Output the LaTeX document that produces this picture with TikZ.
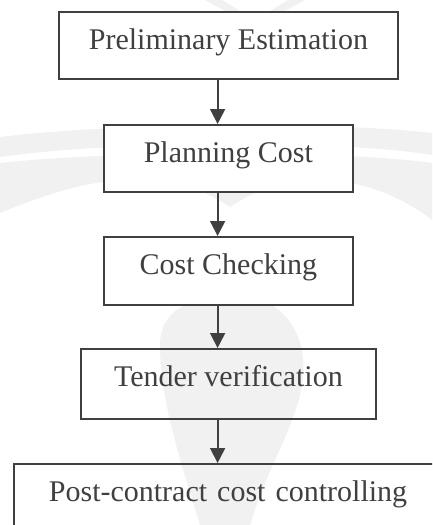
\documentclass[tikz,border=0pt]{standalone}
\usepackage{fontspec}
\setmainfont{Liberation Serif}
\usetikzlibrary{arrows.meta}
\definecolor{ink}{HTML}{404040}
\definecolor{wm}{HTML}{F1F1F1}

\begin{document}
\begin{tikzpicture}[x=1pt,y=-1pt,
  stage/.style={draw=ink, line width=1.8pt, text=ink, inner sep=0pt,
    text height=38pt, text depth=29pt, anchor=north west,
    font=\fontsize{30}{36}\selectfont},
  opaque/.style={fill=white},
  flow/.style={draw=ink, line width=1.8pt, -{Triangle[width=15pt,length=15pt]}}]
\useasboundingbox (0,0) rectangle (432,525);
\begin{scope}
\clip (0,0) rectangle (432,525);

% faint emblem in the background
\fill[wm] (205,0) -- (222,0) -- (240,11) -- (225,11) -- cycle;
\fill[wm] (305,0) -- (288,0) -- (270,11) -- (285,11) -- cycle;
\fill[wm] (0,137) .. controls (120,122) and (340,122) .. (432,133)
  -- (432,155) .. controls (340,140) and (120,140) .. (0,157) -- cycle;
\fill[wm] (0,163) .. controls (120,150) and (340,150) .. (432,163)
  -- (432,220) .. controls (380,180) and (300,160) .. (230,207)
  .. controls (160,160) and (80,180) .. (0,213) -- cycle;
\fill[wm] (232,296) .. controls (290,296) and (306,340) .. (303,375)
  .. controls (300,420) and (270,460) .. (250,525) -- (200,525)
  .. controls (180,460) and (160,400) .. (160,345)
  .. controls (160,310) and (190,296) .. (232,296) -- cycle;

% process stages
\node[stage, opaque, minimum width=339pt] (b1) at (58,11) {Preliminary Estimation};
\node[stage, opaque, minimum width=249pt] (b2) at (103,124) {Planning Cost};
\node[stage, opaque, minimum width=249pt, text depth=30pt] (b3) at (103,236) {Cost Checking};
\node[stage, minimum width=295pt, text depth=32pt] (b4) at (80,348) {Tender verification};
\node[stage, text width=362pt, align=left, inner xsep=35pt, text depth=40pt] (b5) at (13,463) {Post-contract cost controlling};

% connectors
\draw[flow] ([xshift=-10.8pt]b1.south) -- ([xshift=-10.8pt]b1.south |- b2.north);
\draw[flow] ([xshift=-10.8pt]b2.south) -- ([xshift=-10.8pt]b2.south |- b3.north);
\draw[flow] ([xshift=-10.8pt]b3.south) -- ([xshift=-10.8pt]b3.south |- b4.north);
\draw[flow] ([xshift=-10.8pt]b4.south) -- ([xshift=-10.8pt]b4.south |- b5.north);
\end{scope}
\end{tikzpicture}
\end{document}
